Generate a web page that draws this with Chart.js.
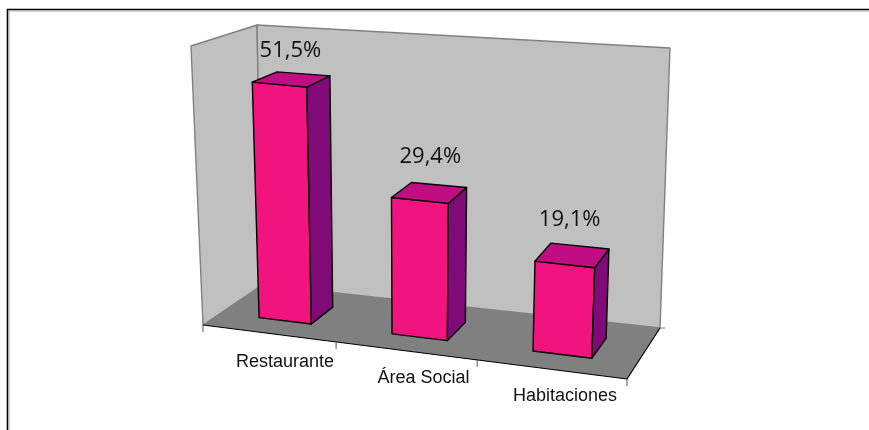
<!DOCTYPE html>
<html>
<head>
<meta charset="utf-8">
<title>Distribución</title>
<script src="https://cdn.jsdelivr.net/npm/chart.js@4"></script>
<style>
    html, body { margin: 0; padding: 0; background: #fff; }
    canvas { display: block; }
</style>
</head>
<body>
<canvas id="barChart" width="869" height="430"></canvas>
<script>
const categories = ['Restaurante', 'Área Social', 'Habitaciones'];
const shares = [51.5, 29.4, 19.1];
const shareLabels = ['51,5%', '29,4%', '19,1%'];

// corners of the 3d box as seen on the page
const box = {
    frontBottomLeft: [203, 325], frontBottomRight: [627, 379],
    backBottomLeft: [262, 285], backBottomRight: [660, 328],
    frontTopLeft: [191, 46], frontTopRight: [639, 91],
    backTopLeft: [257, 25], backTopRight: [670, 48]
};
const barDepth = [0.3, 0.7]; // where bars sit between front and back of the floor

function project(u, v, w) {
    const k = 0.915;
    const uu = k * u / (1 + (k - 1) * u); // slight perspective along x
    const at = (c0, c1, c2, c3, i) => {
        const front = c0[i] + (c1[i] - c0[i]) * uu;
        const back = c2[i] + (c3[i] - c2[i]) * uu;
        return front + (back - front) * w;
    };
    const b = i => at(box.frontBottomLeft, box.frontBottomRight, box.backBottomLeft, box.backBottomRight, i);
    const t = i => at(box.frontTopLeft, box.frontTopRight, box.backTopLeft, box.backTopRight, i);
    return [b(0) + (t(0) - b(0)) * v, b(1) + (t(1) - b(1)) * v];
}

function poly(ctx, pts, fill, stroke, lineWidth) {
    ctx.beginPath();
    pts.forEach((p, i) => i ? ctx.lineTo(p[0], p[1]) : ctx.moveTo(p[0], p[1]));
    ctx.closePath();
    if (fill) {
        ctx.fillStyle = fill;
        ctx.fill();
    }
    if (stroke) {
        ctx.strokeStyle = stroke;
        ctx.lineWidth = lineWidth;
        ctx.lineJoin = 'round';
        ctx.stroke();
    }
}

function seg(ctx, a, b, color, lineWidth) {
    ctx.beginPath();
    ctx.moveTo(a[0], a[1]);
    ctx.lineTo(b[0], b[1]);
    ctx.strokeStyle = color;
    ctx.lineWidth = lineWidth;
    ctx.stroke();
}

const box3d = {
    id: 'box3d',
    beforeDatasetsDraw(chart) {
        const ctx = chart.ctx;
        ctx.save();
        // page frame
        seg(ctx, [7, 9.5], [869, 9.5], '#000', 1.6);
        seg(ctx, [7.5, 9], [7.5, 430], '#000', 1.6);
        seg(ctx, [9, 11], [869, 11], '#aaa', 1);
        seg(ctx, [9, 11], [9, 430], '#aaa', 1);

        // walls and floor
        poly(ctx, [project(0, 0, 0), project(0, 1, 0), project(0, 1, 1), project(0, 0, 1)], '#c0c0c0', '#808080', 1.4);
        poly(ctx, [project(0, 0, 1), project(0, 1, 1), project(1, 1, 1), project(1, 0, 1)], '#c0c0c0', '#808080', 1.4);
        poly(ctx, [project(0, 0, 0), project(1, 0, 0), project(1, 0, 1), project(0, 0, 1)], '#808080');
        seg(ctx, project(0, 0, 0), project(1, 0, 0), '#000', 1.2);
        seg(ctx, project(1, 0, 0), project(1, 0, 1), '#000', 1.2);

        // ticks on the category axis, taken from the x scale
        const xs = chart.scales.x;
        [0, 1, 2, 3].forEach(i => {
            const p = project(i / 3, 0, 0);
            seg(ctx, p, [p[0], p[1] + 7], '#555', 1);
        });
        const corner = project(1, 0, 1);
        seg(ctx, corner, [corner[0] + 5, corner[1]], '#808080', 1);

        // category labels sit under their band, a little to the right
        ctx.fillStyle = '#111';
        ctx.font = '18px "Liberation Sans", Arial, sans-serif';
        ctx.textAlign = 'center';
        ctx.textBaseline = 'middle';
        const labelDx = [16.5, 18, 14];
        const labelDy = [29, 27, 27];
        categories.forEach((name, i) => {
            const u = (xs.getPixelForTick(i) - xs.left) / xs.width;
            const p = project(u, 0, 0);
            ctx.fillText(name, p[0] + labelDx[i], p[1] + labelDy[i]);
        });
        ctx.restore();
    },
    beforeDatasetDraw(chart, args) {
        // flat bars are replaced by their projected version
        const ctx = chart.ctx;
        const xs = chart.scales.x;
        const ys = chart.scales.y;
        const meta = chart.getDatasetMeta(args.index);
        const textDx = [-1, 1, -2.5];
        const textDy = [-28.5, -35.5, -35.5];
        ctx.save();
        meta.data.forEach((bar, i) => {
            const u0 = (bar.x - bar.width / 2 - xs.left) / xs.width;
            const u1 = (bar.x + bar.width / 2 - xs.left) / xs.width;
            const v = (ys.bottom - bar.y) / ys.height;
            const [w0, w1] = barDepth;
            poly(ctx, [project(u0, 0, w0), project(u1, 0, w0), project(u1, v, w0), project(u0, v, w0)], '#f1147f', '#000', 1.4);
            poly(ctx, [project(u1, 0, w0), project(u1, 0, w1), project(u1, v, w1), project(u1, v, w0)], '#800a78', '#000', 1.4);
            poly(ctx, [project(u0, v, w0), project(u1, v, w0), project(u1, v, w1), project(u0, v, w1)], '#c00e82', '#000', 1.4);

            const top = project((u0 + u1) / 2, v, 0.5);
            ctx.fillStyle = '#111';
            ctx.font = '22px "Open Sans", sans-serif';
            ctx.textAlign = 'center';
            ctx.textBaseline = 'middle';
            ctx.fillText(shareLabels[i], top[0] + textDx[i], top[1] + textDy[i]);
        });
        ctx.restore();
        return false;
    }
};

new Chart(document.getElementById('barChart').getContext('2d'), {
    type: 'bar',
    data: {
        labels: categories,
        datasets: [{
            label: 'Porcentaje',
            data: shares,
            backgroundColor: '#f1147f',
            borderColor: '#000',
            categoryPercentage: 1,
            barPercentage: 0.4
        }]
    },
    options: {
        responsive: false,
        animation: false,
        plugins: {
            legend: { display: false },
            tooltip: { enabled: false }
        },
        scales: {
            x: { display: false },
            y: { display: false, min: 0, max: 60 }
        }
    },
    plugins: [box3d]
});
</script>
</body>
</html>
